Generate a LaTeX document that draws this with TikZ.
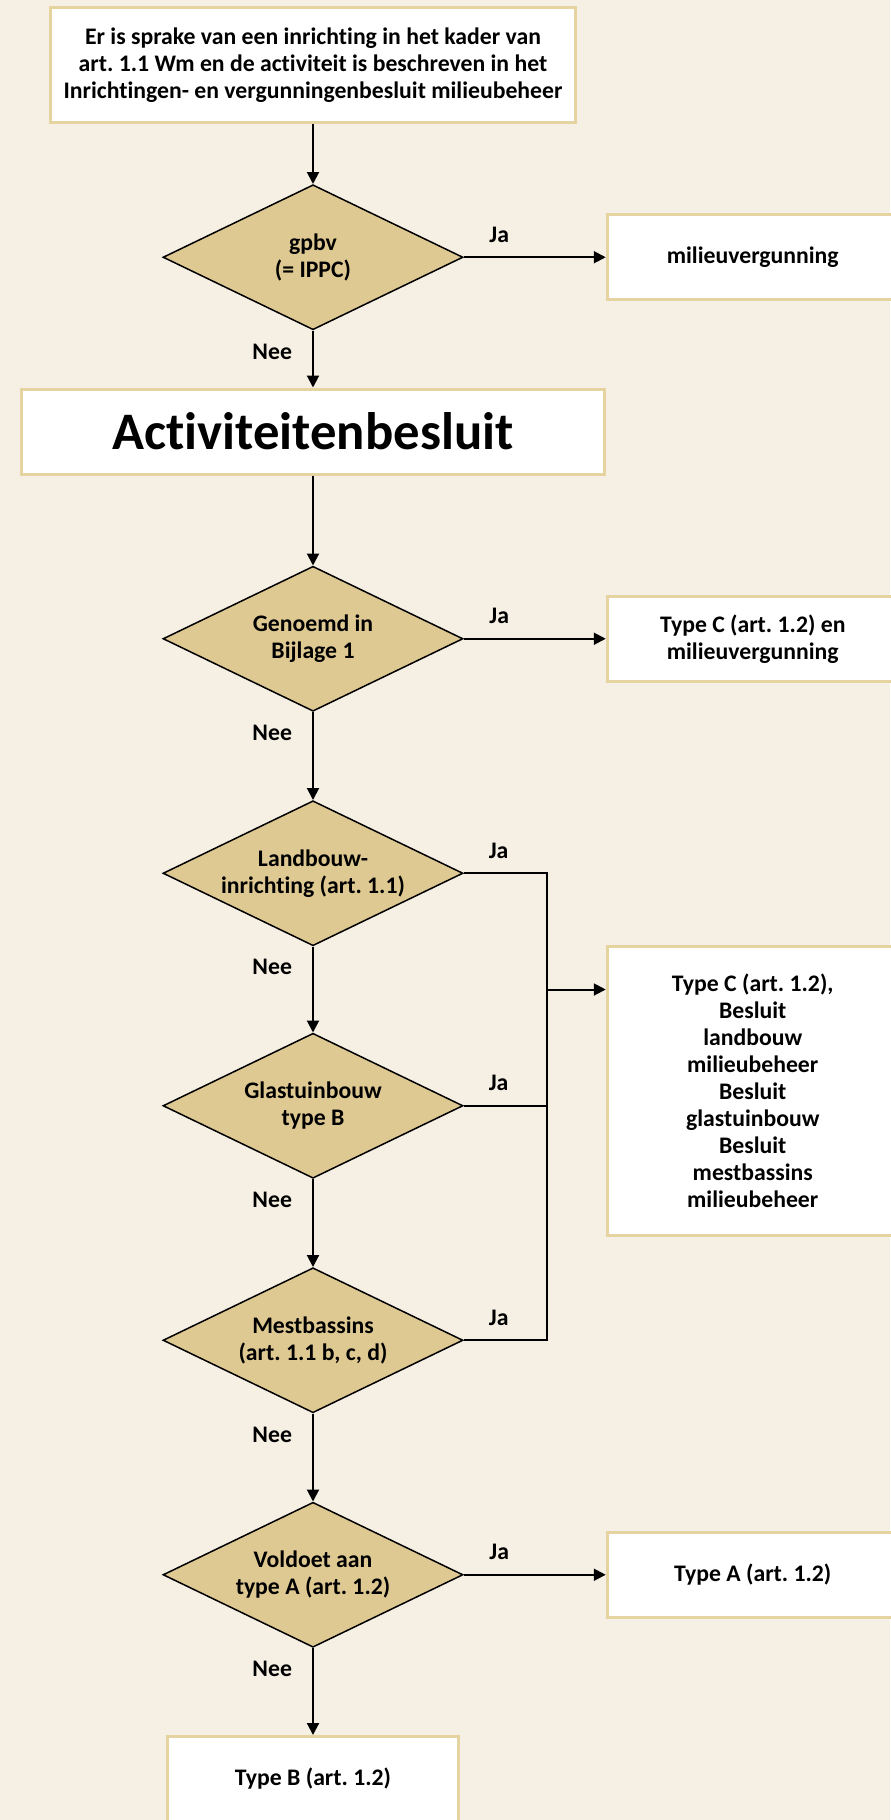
\documentclass[tikz,border=0pt]{standalone}
\usepackage{fontspec}
\setmainfont{Carlito}[Ligatures={NoCommon}]
\frenchspacing
\usetikzlibrary{shapes.geometric,arrows.meta,positioning,calc}
\definecolor{bgcolor}{RGB}{246,240,228}
\definecolor{tancolor}{RGB}{223,201,146}
\definecolor{edgecolor}{RGB}{229,211,160}

\begin{document}
\begin{tikzpicture}[
    font=\bfseries\fontsize{13.5}{15.4}\selectfont,
    box/.style={rectangle, draw=edgecolor, line width=0.06cm, fill=white, minimum width=5.82cm, minimum height=1.7cm, align=center},
    decision/.style={diamond, aspect=2.05, draw, line width=0.03cm, fill=tancolor, minimum width=6.0cm, minimum height=2.9cm, inner sep=0pt, align=center},
    arrow/.style={-{Triangle[length=0.24cm, width=0.24cm]}, line width=0.04cm},
    line/.style={line width=0.04cm},
    ja/.style={above=0.28cm, inner sep=0pt},
    nee/.style={left=0.4cm, inner sep=0pt}
]
\fill[bgcolor] (0,0) rectangle (17.8,-36.4);
\useasboundingbox (0,0) rectangle (17.8,-36.4);

\node[box, minimum width=10.5cm, minimum height=2.3cm] (start) at (6.26,-1.3) {Er is sprake van een inrichting in het kader van\\art. 1.1 Wm en de activiteit is beschreven in het\\Inrichtingen- en vergunningenbesluit milieubeheer};
\node[decision, below=1.2cm of start] (gpbv) {gpbv\\(= IPPC)};
\node[box, right=2.84cm of gpbv] (vergunning) {milieuvergunning};
\node[box, below=1.14cm of gpbv, minimum width=11.66cm, font=\bfseries\fontsize{30}{36}\selectfont] (besluit) {Activiteitenbesluit};
\node[decision, below=1.8cm of besluit] (bijlage) {Genoemd in\\Bijlage 1};
\node[box, right=2.84cm of bijlage] (typeC) {Type C (art. 1.2) en\\milieuvergunning};
\node[decision, below=1.76cm of bijlage] (landbouw) {Landbouw-\\inrichting (art. 1.1)};
\node[decision, below=1.72cm of landbouw] (glas) {Glastuinbouw\\type B};
\node[decision, below=1.76cm of glas] (mest) {Mestbassins\\(art. 1.1 b, c, d)};
\node[box, right=2.84cm of glas, yshift=0.3cm, minimum height=5.78cm] (besluiten) {Type C (art. 1.2),\\Besluit\\landbouw\\milieubeheer\\Besluit\\glastuinbouw\\Besluit\\mestbassins\\milieubeheer};
\node[decision, below=1.76cm of mest] (voldoet) {Voldoet aan\\type A (art. 1.2)};
\node[box, right=2.84cm of voldoet] (typeA) {Type A (art. 1.2)};
\node[box, below=1.74cm of voldoet] (typeB) {Type B (art. 1.2)};

\draw[arrow] (start) -- (gpbv);
\draw[arrow] (gpbv) -- node[ja, pos=0.25] {Ja} (vergunning);
\draw[arrow] (gpbv) -- node[nee, pos=0.37] {Nee} (besluit);
\draw[arrow] (besluit) -- (bijlage);
\draw[arrow] (bijlage) -- node[ja, pos=0.25] {Ja} (typeC);
\draw[arrow] (bijlage) -- node[nee, pos=0.24] {Nee} (landbouw);
\draw[arrow] (landbouw) -- node[nee, pos=0.24] {Nee} (glas);
\draw[arrow] (glas) -- node[nee, pos=0.24] {Nee} (mest);
\draw[arrow] (mest) -- node[nee, pos=0.24] {Nee} (voldoet);
\draw[arrow] (voldoet) -- node[ja, pos=0.25] {Ja} (typeA);
\draw[arrow] (voldoet) -- node[nee, pos=0.24] {Nee} (typeB);

\draw[line] (landbouw.east) -- node[ja, pos=0.42] {Ja} ++(1.66,0) |- (mest.east);
\draw[line] (glas.east) -- node[ja, pos=0.42] {Ja} ++(1.66,0);
\node[ja] at ($(mest.east)+(0.7,0)$) (jamest) {Ja};
\coordinate (bus) at ($(landbouw.east)!0.5!(glas.east)+(1.66,0)$);
\draw[arrow] (bus) -- (bus -| besluiten.west);
\end{tikzpicture}
\end{document}
